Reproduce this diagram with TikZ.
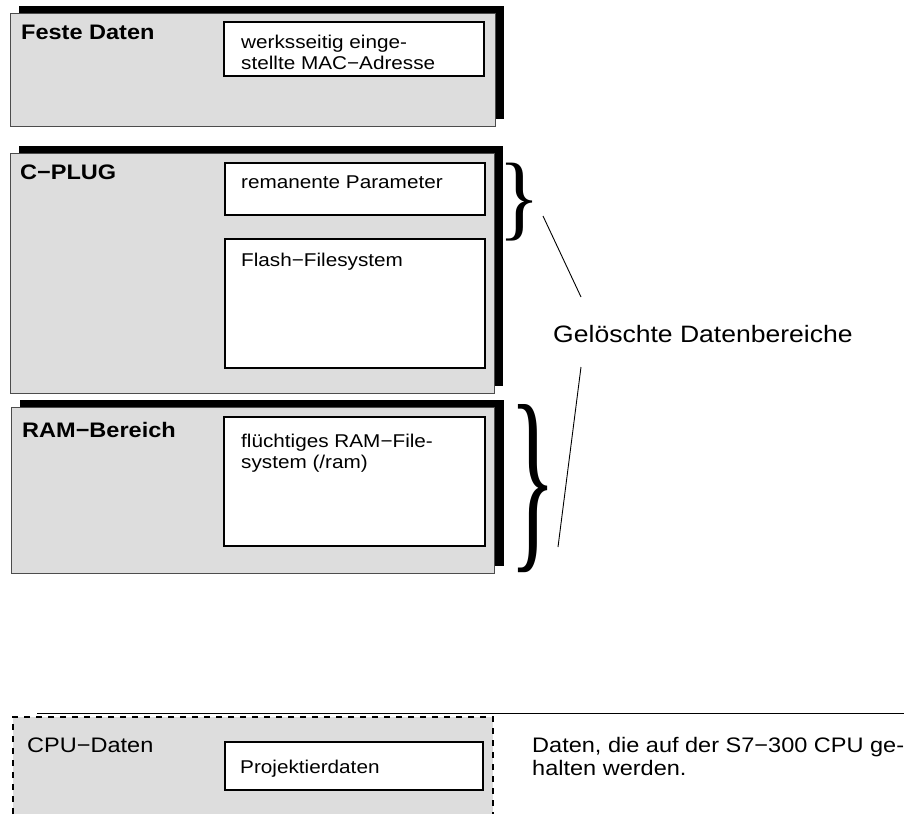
\documentclass[tikz,border=0pt]{standalone}
\usepackage{fontspec}
\setmainfont{Liberation Sans}[FakeStretch=1.12]
\newfontfamily\bracefont{Liberation Serif}
\definecolor{panelgray}{RGB}{221,221,221}
\begin{document}
\begin{tikzpicture}[x=1pt,y=-1pt,
  shadowbox/.style={fill=black},
  panelbox/.style={fill=panelgray,draw=black!70,line width=0.9},
  innerbox/.style={fill=white,draw=black,line width=1.8},
  titletext/.style={font=\fontsize{21}{24}\selectfont\bfseries,anchor=base west,inner sep=0},
  smalltext/.style={font=\fontsize{18.5}{21}\selectfont,anchor=base west,inner sep=0},
  smallmulti/.style={font=\fontsize{18.5}{21}\selectfont,anchor=north west,inner sep=0,align=left},
  bigtext/.style={font=\fontsize{23.7}{27}\selectfont,anchor=base west,inner sep=0},
  cputext/.style={font=\fontsize{21}{21}\selectfont,anchor=base west,inner sep=0},
  cpumulti/.style={font=\fontsize{21}{23}\selectfont,anchor=north west,inner sep=0,align=left},
  thinline/.style={draw=black,line width=0.9},
  bracenode/.style={inner sep=0,anchor=north west}]
\useasboundingbox (0,0) rectangle (912,814);

% Panel 1: Feste Daten
\fill[shadowbox] (19,6) rectangle (504,119);
\draw[panelbox] (10,13) rectangle (495,126);
\draw[innerbox] (224,22) rectangle (484,76);
\node[titletext] (feste) at (21,39) {Feste Daten};
\node[smallmulti] (mac) at (241,34.8) {werksseitig einge-\\stellte MAC−Adresse};

% Panel 2: C-PLUG
\fill[shadowbox] (19,146) rectangle (503,386);
\draw[panelbox] (10,153) rectangle (494,393);
\draw[innerbox] (225,163) rectangle (485,215);
\draw[innerbox] (225,239) rectangle (485,368);
\node[titletext] (cplug) at (20,179) {C−PLUG};
\node[smalltext] (rema) at (241,188) {remanente Parameter};
\node[smalltext] (flash) at (241,266) {Flash−Filesystem};

% Panel 3: RAM-Bereich
\fill[shadowbox] (20,400) rectangle (504,566);
\draw[panelbox] (11,407) rectangle (494,573);
\draw[innerbox] (224,417) rectangle (485,546);
\node[titletext] (ram) at (22,437) {RAM−Bereich};
\node[smallmulti] (ramfs) at (241,433.6) {flüchtiges RAM−File-\\system (/ram)};

% Braces
\node[bracenode] (br1) at (498,163) {\resizebox*{42pt}{78pt}{\bracefont\textbraceright}};
\node[bracenode] (br2) at (509,404) {\resizebox*{47pt}{168pt}{\bracefont\textbraceright}};

% Label and pointer lines
\node[bigtext] (geloescht) at (553,342) {Gelöschte Datenbereiche};
\coordinate (l1a) at (543,216);
\coordinate (l1b) at (581,297);
\coordinate (l2a) at (581,367);
\coordinate (l2b) at (558,547);
\draw[thinline] (l1a) -- (l1b);
\draw[thinline] (l2a) -- (l2b);

% Bottom legend
\coordinate (rulea) at (37,713);
\coordinate (ruleb) at (904,713);
\draw[thinline] (rulea) -- (ruleb);
\fill[panelgray] (13,717) rectangle (493,814);
\draw[black,line width=2,dash pattern=on 6pt off 6pt] (13,814) -- (13,717) -- (493,717) -- (493,814);
\draw[innerbox] (225,742) rectangle (483,790);
\node[cputext] (cpu) at (27,752) {CPU−Daten};
\node[smalltext] (proj) at (240,773) {Projektierdaten};
\node[cpumulti] (daten) at (532,737) {Daten, die auf der S7−300 CPU ge-\\halten werden.};
\end{tikzpicture}
\end{document}
